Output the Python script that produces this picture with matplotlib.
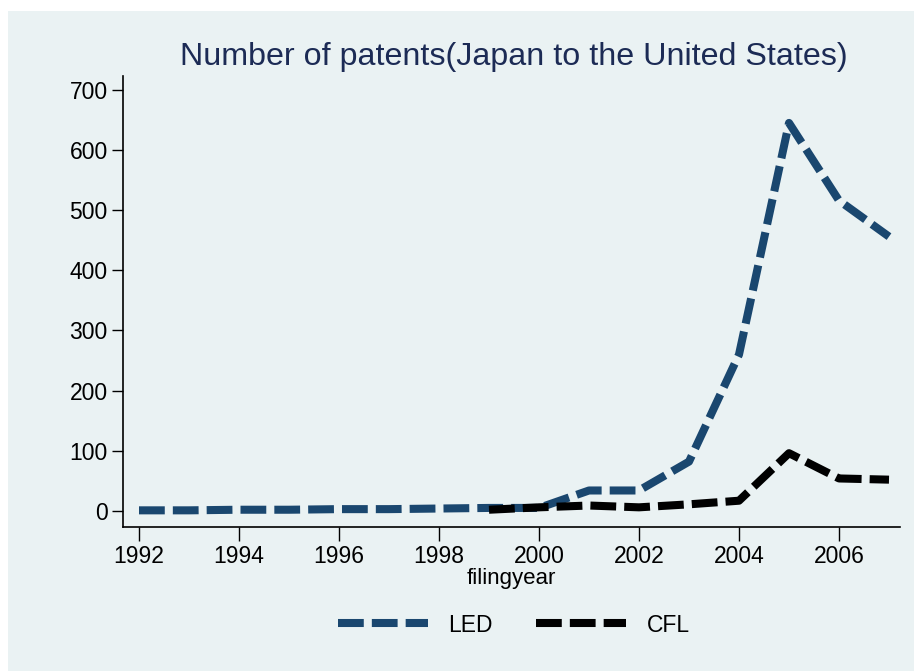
import numpy as np
import matplotlib.pyplot as plt

plt.rcParams['font.family'] = ['Liberation Sans', 'DejaVu Sans']

# Data
years_led = [1992, 1993, 1994, 1995, 1996, 1997, 1998, 1999, 2000, 2001, 2002, 2003, 2004, 2005, 2006, 2007]
led = [1, 1, 2, 2, 3, 3, 4, 5, 5, 34, 34, 82, 260, 645, 516, 456]
years_cfl = [1999, 2000, 2001, 2002, 2003, 2004, 2005, 2006, 2007]
cfl = [2, 6, 9, 6, 11, 17, 96, 54, 52]

xticks = [1992, 1994, 1996, 1998, 2000, 2002, 2004, 2006]
yticks = [0, 100, 200, 300, 400, 500, 600, 700]

bg = '#EAF2F3'
navy = '#1A476F'

fig = plt.figure(figsize=(9.14, 6.71), dpi=100)
fig.patch.set_facecolor('white')
# coloured graph region with white strip on top and left
fig.patches.append(plt.Rectangle((8 / 914, 0), 1, 1 - 11 / 671, transform=fig.transFigure,
                                 facecolor=bg, edgecolor='none', zorder=-10))

ax = fig.add_axes([123 / 914, 1 - 527 / 671, (900 - 123) / 914, (527 - 76) / 671])
ax.set_facecolor(bg)

ax.plot(years_led, led, color=navy, lw=5.8, linestyle=(0, (3.2, 1.0)),
        solid_capstyle='butt', label='LED')
ax.plot(years_cfl, cfl, color='black', lw=5.8, linestyle=(0, (3.2, 1.0)),
        solid_capstyle='butt', label='CFL')

ax.set_xlim(1991.68, 2007.22)
ax.set_ylim(-26.7, 723)
ax.set_xticks(xticks)
ax.set_yticks(yticks)
ax.tick_params(axis='both', direction='out', labelsize=16.5, colors='black', width=1)
ax.tick_params(axis='x', length=10, pad=3)
ax.tick_params(axis='y', length=8, pad=3)

for s in ['top', 'right']:
    ax.spines[s].set_visible(False)
for s in ['left', 'bottom']:
    ax.spines[s].set_linewidth(1.2)

ax.set_xlabel('filingyear', fontsize=16, labelpad=0)

fig.text(514 / 914, 1 - 57 / 671, 'Number of patents(Japan to the United States)',
         ha='center', va='center', fontsize=23.2, color='#1C2B55')

leg = fig.legend(loc='center', bbox_to_anchor=(514 / 914, 1 - 625 / 671), ncol=2,
                 frameon=False, fontsize=16.5, handlelength=3.9, columnspacing=1.9,
                 handletextpad=0.9)

plt.savefig('out.png', dpi=100, facecolor=fig.get_facecolor())
